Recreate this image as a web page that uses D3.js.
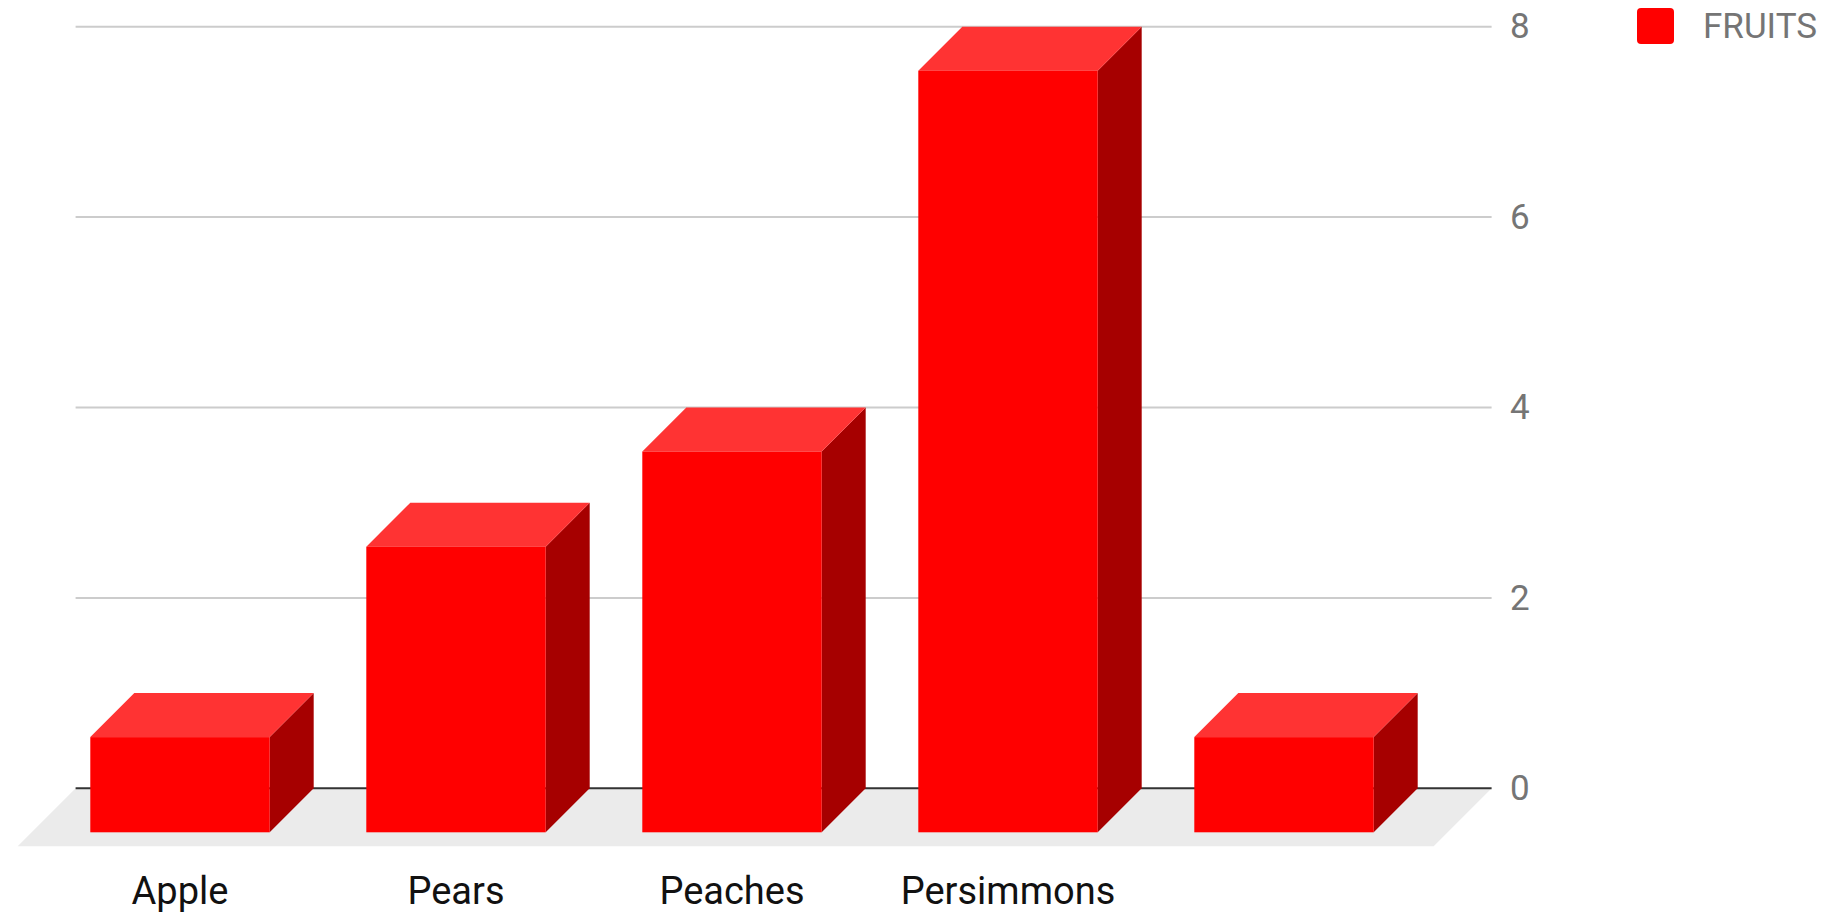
<!DOCTYPE html>
<html>
<head>
<meta charset="utf-8">
<script src="https://cdn.jsdelivr.net/npm/d3@7"></script>
<style>
html,body{margin:0;padding:0;background:#fff;}
svg{display:block;font-family:Roboto, "Noto Sans", sans-serif;}
</style>
</head>
<body>
<svg id="chart" width="1823" height="914"></svg>
<script>
const categories = ["Apple", "Pears", "Peaches", "Persimmons", ""];
const fruitValues = [1, 3, 4, 8, 1];
const yTicks = [0, 2, 4, 6, 8];
const seriesName = "FRUITS";

const svg = d3.select("#chart");
const plotLeft = 75.6, plotRight = 1491.6;
const depth = 44, floorDepth = 58;

const y = d3.scaleLinear().domain([0, 8]).range([788.3, 26.7]);
const x = d3.scaleBand().domain(d3.range(categories.length))
  .range([86, 1466]).paddingInner(0.35).paddingOuter(0.175);

// floor
const y0 = y(0);
svg.append("path")
  .attr("d", `M${plotLeft},${y0} L${plotRight},${y0} L${plotRight - floorDepth},${y0 + floorDepth} L${plotLeft - floorDepth},${y0 + floorDepth} Z`)
  .attr("fill", "#ebebeb");

// gridlines
svg.append("g").selectAll("line").data(yTicks.filter(t => t !== 0)).join("line")
  .attr("x1", plotLeft).attr("x2", plotRight)
  .attr("y1", d => y(d)).attr("y2", d => y(d))
  .attr("stroke", "#cccccc").attr("stroke-width", 2);

// baseline
svg.append("line")
  .attr("x1", plotLeft).attr("x2", plotRight)
  .attr("y1", y0).attr("y2", y0)
  .attr("stroke", "#333333").attr("stroke-width", 2);

// tick labels (right axis)
const axis = d3.axisRight(y).tickValues(yTicks).tickSize(0).tickPadding(0);
const axisG = svg.append("g").attr("transform", `translate(${1510},0)`).call(axis);
axisG.select(".domain").remove();
axisG.selectAll("text")
  .attr("fill", "#757575")
  .style("font-size", "35px")
  .style("font-family", "Roboto, sans-serif");

// bars
const bw = x.bandwidth();
const bars = svg.append("g").selectAll("g").data(fruitValues).join("g");
bars.each(function(v, i) {
  const g = d3.select(this);
  const bx = x(i), by = y(v);
  const fx = bx - depth, fy = by + depth, fb = y0 + depth;
  // side face
  g.append("path")
    .attr("d", `M${fx + bw},${fy} L${bx + bw},${by} L${bx + bw},${y0} L${fx + bw},${fb} Z`)
    .attr("fill", "#a60000");
  // top face
  g.append("path")
    .attr("d", `M${fx},${fy} L${bx},${by} L${bx + bw},${by} L${fx + bw},${fy} Z`)
    .attr("fill", "#ff3333");
  // front face
  g.append("rect")
    .attr("x", fx).attr("y", fy).attr("width", bw).attr("height", fb - fy)
    .attr("fill", "#ff0000");
});

// category labels
svg.append("g").selectAll("text").data(categories).join("text")
  .attr("x", (d, i) => x(i) - depth + bw / 2)
  .attr("y", 904)
  .attr("text-anchor", "middle")
  .attr("fill", "#111111")
  .style("font-size", "38px")
  .text(d => d);

// legend
const lg = svg.append("g");
lg.append("rect").attr("x", 1637).attr("y", 8).attr("width", 37).attr("height", 36)
  .attr("rx", 4).attr("fill", "#ff0000");
lg.append("text").attr("x", 1703).attr("y", 26).attr("dy", "0.35em")
  .attr("fill", "#757575").style("font-size", "35px").text(seriesName);
</script>
</body>
</html>
